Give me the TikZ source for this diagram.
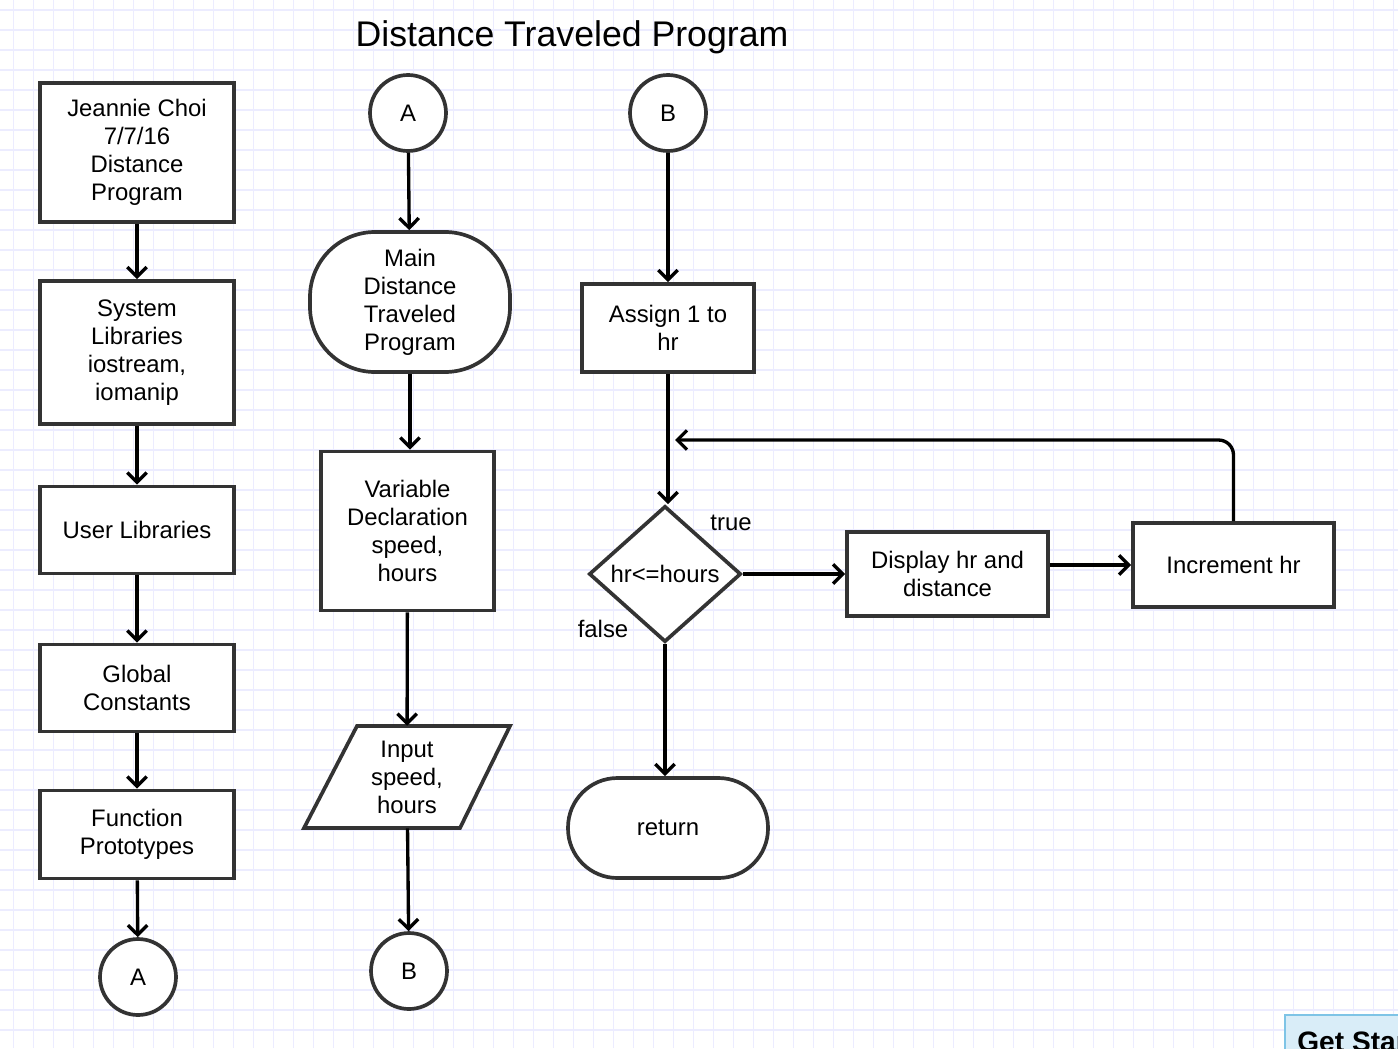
\documentclass[tikz,border=0pt]{standalone}
\usepackage{fontspec}
\setmainfont{Liberation Sans}
\usetikzlibrary{arrows.meta,shapes.geometric}
\definecolor{gridc}{RGB}{236,236,255}
\definecolor{boxc}{RGB}{51,51,51}
\definecolor{gsfill}{RGB}{217,237,248}
\definecolor{gsdraw}{RGB}{126,196,230}
\newcommand{\nf}{\fontsize{13.6}{15.9}\selectfont}
\tikzset{
  sz/.style 2 args={minimum width=#1*0.02cm, minimum height=#2*0.02cm},
  box/.style={draw=boxc, line width=2.1pt, fill=white, align=center, inner sep=0pt, font=\nf},
  conn/.style={draw=boxc, line width=2.1pt, fill=white, circle, inner sep=0pt, minimum size=1.52cm, font=\nf},
  arr/.style={line width=1.9pt, -{Straight Barb[length=5.5pt,width=11pt,line width=1.9pt]}},
  lbl/.style={font=\nf, inner sep=0pt}
}
\begin{document}
\begin{tikzpicture}[x=0.02cm,y=-0.02cm]
\useasboundingbox (0,0) rectangle (1398,1048);
\fill[white] (0,0) rectangle (1398,1048);
% grid
\foreach \i in {0,...,69} {\draw[gridc, line width=0.6pt] ({13.3+20*\i},0) -- ({13.3+20*\i},1048);}
\foreach \j in {0,...,52} {\draw[gridc, line width=0.6pt] (0,{10+20*\j}) -- (1398,{10+20*\j});}
% title
\node[anchor=base, font=\fontsize{20.3}{24}\selectfont, inner sep=0pt] (title) at (572,46) {Distance Traveled Program};
% left column
\node[box, sz={194}{139}] (b1) at (137,152.5) {Jeannie Choi\\7/7/16\\Distance\\Program};
\node[box, sz={194}{143}] (b2) at (137,352.5) {System\\Libraries\\iostream,\\iomanip};
\node[box, sz={194}{87}] (b3) at (137,530) {User Libraries};
\node[box, sz={194}{87}] (b4) at (137,688) {Global\\Constants};
\node[box, sz={194}{88}] (b5) at (137,834.5) {Function\\Prototypes};
\node[conn] (cA1) at (138,977) {A};
% middle column
\node[conn] (cA2) at (408,113) {A};
\node[box, sz={200}{140}, rounded corners=1.3cm] (main) at (410,302) {Main\\Distance\\Traveled\\Program};
\node[box, sz={173}{159}] (var) at (407.5,531) {Variable\\Declaration\\speed,\\hours};
\draw[draw=boxc, line width=2.1pt, fill=white] (357,726) -- (510,726) -- (460,828) -- (304,828) -- cycle;
\node[lbl, align=center, sz={150}{102}] (input) at (407,777) {Input\\speed,\\hours};
\node[conn] (cB2) at (409,971) {B};
% right column
\node[conn] (cB3) at (668,113) {B};
\node[box, sz={172}{88}] (assign) at (668,328) {Assign 1 to\\hr};
\node[box, diamond, sz={152}{136}, aspect=1.118] (dia) at (665,574) {hr<=hours};
\node[box, sz={200}{100}, rounded corners=0.99cm] (ret) at (668,828) {return};
\node[box, sz={201}{84}] (disp) at (947.5,574) {Display hr and\\distance};
\node[box, sz={201}{84}] (inc) at (1233.5,565) {Increment hr};
\node[lbl] (ltrue) at (731,523) {true};
\node[lbl] (lfalse) at (603,629) {false};
\coordinate (loopend) at (675,440);
% connectors
\draw[arr] (b1) -- (b2);
\draw[arr] (b2) -- (b3);
\draw[arr] (b3) -- (b4);
\draw[arr] (b4) -- (b5);
\draw[arr] (b5) -- (cA1);
\draw[arr] (cA2) -- (main);
\draw[arr] (main.south) -- (main.south |- var.north);
\draw[arr] (var) -- (input);
\draw[arr] (input) -- (cB2);
\draw[arr] (cB3) -- (assign);
\draw[arr] (assign.south) -- (assign.south |- dia.north);
\draw[arr] (dia.south) -- (dia.south |- ret.north);
\draw[arr] (dia.east) -- (disp.west);
\draw[arr] (disp.east |- inc.west) -- (inc.west);
\draw[arr, rounded corners=0.3cm] (inc.north) |- (loopend);
% partial button
\begin{scope}
\clip (0,0) rectangle (1398,1048);
\draw[gsdraw, fill=gsfill, line width=1.2pt] (1285,1015) rectangle (1430,1080);
\node[anchor=north west, inner sep=0pt, font=\bfseries\fontsize{16}{19}\selectfont] (gs) at (1297,1031) {Get Started};
\end{scope}
\end{tikzpicture}
\end{document}
